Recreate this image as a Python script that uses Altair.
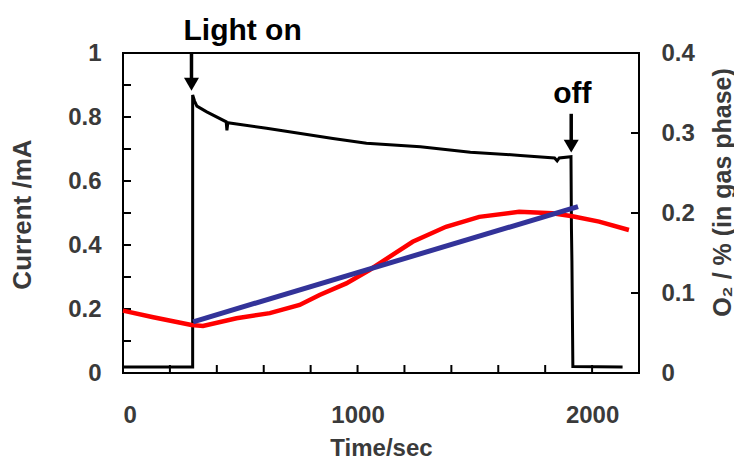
import altair as alt
import pandas as pd

# Current (mA), left axis
cur_t = [0, 297, 297, 305, 315, 357, 440, 443, 447, 612, 895, 1038, 1268, 1481, 1694, 1840, 1851, 1860, 1910, 1912, 1914, 1918, 2130]
cur_v = [0.019, 0.019, 0.869, 0.85, 0.834, 0.816, 0.785, 0.758, 0.782, 0.765, 0.733, 0.718, 0.707, 0.69, 0.68, 0.672, 0.663, 0.672, 0.676, 0.45, 0.35, 0.02, 0.019]

# O2 (%), right axis - measured
o2_t = [0, 129, 292, 341, 484, 626, 753, 838, 952, 1051, 1136, 1235, 1377, 1519, 1689, 1831, 1916, 2030, 2157]
o2_v = [0.078, 0.0696, 0.060, 0.0588, 0.0684, 0.0748, 0.085, 0.0976, 0.112, 0.1288, 0.1452, 0.164, 0.1828, 0.1952, 0.2016, 0.1996, 0.196, 0.1892, 0.1788]

# O2 (%), right axis - linear fit
fit_t = [299, 1940]
fit_v = [0.064, 0.208]

# axis ticks
x_ticks = [0, 200, 400, 600, 800, 1000, 1200, 1400, 1600, 1800, 2000, 2200]
x_labels = [0, 1000, 2000]
yl_ticks = [0, 0.1, 0.2, 0.3, 0.4, 0.5, 0.6, 0.7, 0.8, 0.9, 1.0]
yl_labels = [0, 0.2, 0.4, 0.6, 0.8, 1.0]
yr_ticks = [0, 0.1, 0.2, 0.3, 0.4]

# annotations (left-axis units)
ann_text = ["Light on", "off"]
ann_t = [510, 1916]
ann_v = [1.04, 0.844]
arrow_t = [292, 1911]
arrow_top = [1.0, 0.81]
arrow_head = [0.902, 0.709]

W, H = 516, 320
FONT = "Liberation Sans"
LABEL_COLOR = "#3a3a3a"

cur_df = pd.DataFrame({"t": cur_t, "v": cur_v, "i": range(len(cur_t))})
o2_df = pd.DataFrame({"t": o2_t, "v": o2_v, "i": range(len(o2_t))})
fit_df = pd.DataFrame({"t": fit_t, "v": fit_v})
ann_df = pd.DataFrame({"text": ann_text, "t": ann_t, "v": ann_v})
arr_df = pd.DataFrame({"t": arrow_t, "top": arrow_top, "head": arrow_head})

xscale = alt.Scale(domain=[0, 2200], nice=False, zero=False)
ylscale = alt.Scale(domain=[0, 1], nice=False)
yrscale = alt.Scale(domain=[0, 0.4], nice=False)

common = dict(ticks=False, domain=False, grid=False,
              labelFont=FONT, labelFontWeight="bold", labelFontSize=24, labelColor=LABEL_COLOR,
              titleFont=FONT, titleFontWeight="bold", titleColor=LABEL_COLOR)

xaxis = alt.Axis(values=x_labels, format="d", title="Time/sec", labelPadding=30,
                 titleFontSize=24, titleX=258, titleY=75, titleBaseline="middle", **common)
ylaxis = alt.Axis(values=yl_labels, format="~g", title="Current /mA", labelPadding=22,
                  titleFontSize=26, titleAngle=270, titleX=-101, titleY=161,
                  titleBaseline="middle", titleAlign="center", **common)
yraxis = alt.Axis(values=yr_ticks, format="~g", title="O₂ / % (in gas phase)", orient="right",
                  labelPadding=22, titleFontSize=25, titleAngle=270,
                  titleX=83, titleY=139, titleBaseline="middle", titleAlign="center", **common)

X = alt.X("t:Q", scale=xscale, axis=xaxis)

cur_line = alt.Chart(cur_df).mark_line(color="black", strokeWidth=3).encode(
    x=X, y=alt.Y("v:Q", scale=ylscale, axis=ylaxis), order="i:Q")

lt_df = pd.DataFrame({"v": yl_ticks})
left_ticks = alt.Chart(lt_df).mark_rule(color="black", strokeWidth=2).encode(
    y=alt.Y("v:Q", scale=ylscale), x=alt.value(0), x2=alt.value(8))

bt_df = pd.DataFrame({"t": x_ticks})
bottom_ticks = alt.Chart(bt_df).mark_rule(color="black", strokeWidth=2).encode(
    x=alt.X("t:Q", scale=xscale), y=alt.value(H), y2=alt.value(H - 8))

ann = alt.Chart(ann_df).mark_text(font=FONT, fontWeight="bold", fontSize=30, color="black",
                                  baseline="alphabetic", align="center").encode(
    x=alt.X("t:Q", scale=xscale), y=alt.Y("v:Q", scale=ylscale), text="text:N")

shaft = alt.Chart(arr_df).mark_rule(color="black", strokeWidth=3.5).encode(
    x=alt.X("t:Q", scale=xscale), y=alt.Y("top:Q", scale=ylscale), y2="head:Q")
head = alt.Chart(arr_df).mark_point(shape="triangle-down", filled=True, size=225, color="black",
                                    opacity=1).encode(
    x=alt.X("t:Q", scale=xscale), y=alt.Y("head:Q", scale=ylscale))

left_layer = alt.layer(cur_line, left_ticks, bottom_ticks, ann, shaft, head)

o2_line = alt.Chart(o2_df).mark_line(color="#ff0000", strokeWidth=4.5).encode(
    x=X, y=alt.Y("v:Q", scale=yrscale, axis=yraxis), order="i:Q")
fit_line = alt.Chart(fit_df).mark_line(color="#333399", strokeWidth=5).encode(
    x=X, y=alt.Y("v:Q", scale=yrscale, axis=yraxis))
rt_df = pd.DataFrame({"v": yr_ticks})
right_ticks = alt.Chart(rt_df).mark_rule(color="black", strokeWidth=2).encode(
    y=alt.Y("v:Q", scale=yrscale), x=alt.value(W), x2=alt.value(W - 8))

right_layer = alt.layer(o2_line, fit_line, right_ticks)

chart = alt.layer(left_layer, right_layer).resolve_scale(y="independent").properties(
    width=W, height=H, autosize="none", background="white",
    padding={"left": 115, "top": 45, "right": 95, "bottom": 90},
).configure_view(stroke="black", strokeWidth=2)

chart.save("out.html", embed_options={"renderer": "svg", "actions": False})
